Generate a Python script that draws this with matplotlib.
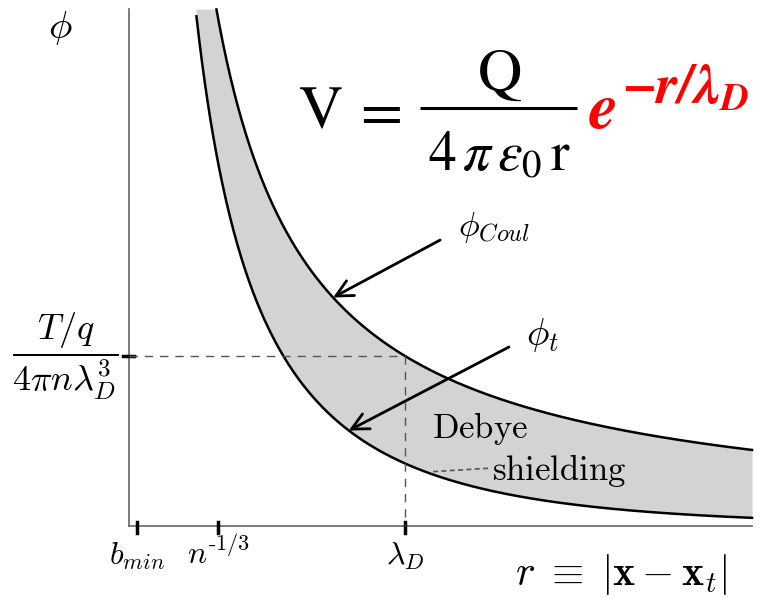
import matplotlib.pyplot as plt
import numpy as np

plt.rcParams['mathtext.fontset'] = 'cm'

# r in units of lambda_D, phi in units of phi_Coul(lambda_D)
lam_D = 1.0
r_axis = 0.018
r_end = 2.235
phi_top = 3.04
r_ticks = [0.046, 0.335, lam_D]
r_tick_labels = [r'$b_{min}$', r'$n^{\text{-1/3}}$', r'$\lambda_D$']
phi_level = 1.0 / lam_D

fig = plt.figure(figsize=(7.64, 5.98), dpi=100)
ax = fig.add_axes([0, 0, 1, 1])
ax.set_xlim(-124 / 281, 640 / 281)
ax.set_ylim(-72 / 170, 526 / 170)
ax.axis('off')


def px(x, y):
    # image pixel -> data coordinates, used for the annotation texts
    return (x - 124) / 281, (526 - y) / 170


# Coulomb and shielded potentials
r = np.linspace(0.2, r_end, 600)
phi_coul = 1.0 / r
phi_t = np.exp(-r / lam_D) / r
ok_c = phi_coul <= phi_top
ok_t = phi_t <= phi_top
phi_c_clip = np.minimum(phi_coul, phi_top)
phi_t_clip = np.minimum(phi_t, phi_top)
ax.fill_between(r, phi_t_clip, phi_c_clip, where=phi_t <= phi_top * 1.2,
                color='#d3d3d3', lw=0)
ax.plot(r[ok_c], phi_coul[ok_c], color='black', lw=1.8)
ax.plot(r[ok_t], phi_t[ok_t], color='black', lw=1.8)

# axes
ax.plot([r_axis, r_axis], [0, phi_top], color='#707070', lw=1.3)
ax.plot([r_axis, r_end], [0, 0], color='#707070', lw=1.3)
for rt, lab in zip(r_ticks, r_tick_labels):
    ax.plot([rt, rt], [0.025, -0.04], color='black', lw=2.5)
    ax.text(rt, -0.224, lab, ha='center', va='baseline', fontsize=23)
ax.plot([-0.004, 0.036], [phi_level, phi_level], color='black', lw=2.5)

# guide lines at lambda_D
ax.plot([r_axis, lam_D], [phi_level, phi_level], color='#555555', lw=1,
        dashes=(6, 5))
ax.plot([lam_D, lam_D], [phi_level, 0], color='#555555', lw=1, dashes=(6, 5))

# labels
ax.text(-0.228, 2.93, r'$\phi$', ha='center', va='center', fontsize=28)
ax.text(-0.21, phi_level, r'$\dfrac{T/q}{4\pi n\lambda_D^3}$', ha='center',
        va='center', fontsize=26)
ax.text(*px(515, 585), r'$r\;\equiv\;|\mathbf{x}-\mathbf{x}_t|$',
        ha='left', va='baseline', fontsize=30)

r_a = 0.744
ax.annotate('', xy=(r_a, 1.0 / r_a), xytext=(1.125, 1.682),
            arrowprops=dict(arrowstyle='->', color='black', lw=2,
                            mutation_scale=30, shrinkA=0, shrinkB=0))
ax.text(1.317, 1.753, r'$\phi_{Coul}$', ha='center', va='center', fontsize=25)
r_b = 0.80
ax.annotate('', xy=(r_b, np.exp(-r_b) / r_b), xytext=(1.370, 1.053),
            arrowprops=dict(arrowstyle='->', color='black', lw=2,
                            mutation_scale=30, shrinkA=0, shrinkB=0))
ax.text(1.491, 1.124, r'$\phi_t$', ha='center', va='center', fontsize=27)

ax.text(1.096, 0.52, r'$\mathrm{Debye}$', ha='left', va='baseline', fontsize=25)
ax.text(1.31, 0.27, r'$\mathrm{shielding}$', ha='left', va='baseline',
        fontsize=25)
ax.plot([1.10, 1.30], [0.32, 0.34], color='#555555', lw=1.2, dashes=(3, 2))

# screened potential  V = Q / (4 pi eps0 r) * exp(-r / lambda_D)
stix = dict(math_fontfamily='stix', va='baseline')
ax.text(*px(298, 128), r'$\mathrm{V}$', ha='left', fontsize=44, **stix)
ax.text(*px(377, 128), r'$=$', ha='center', fontsize=44, **stix)
ax.text(*px(499, 92), r'$\mathrm{Q}$', ha='center', fontsize=44, **stix)
ax.plot(*zip(px(420, 108), px(577, 108)), color='black', lw=2.2,
        solid_capstyle='butt')
ax.text(*px(499, 170), r'$4\,\pi\,\varepsilon_0\,\mathrm{r}$', ha='center',
        fontsize=40, **stix)
ax.text(*px(588, 128), r'$\mathbfit{e}$', color='red', ha='left',
        fontsize=47, **stix)
ax.text(*px(622, 104), r'$\mathbfit{-r/\lambda}_{\mathbfit{D}}$', color='red',
        ha='left', fontsize=40, **stix)

fig.savefig('out.png', dpi=100)
